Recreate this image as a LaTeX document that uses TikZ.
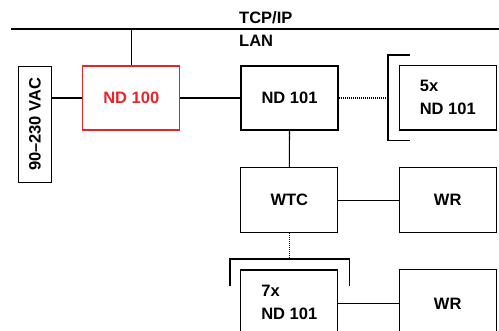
\documentclass[tikz,border=0pt]{standalone}
\usepackage{fontspec}
\setmainfont{Liberation Sans}
\definecolor{ndred}{RGB}{235,35,40}
\begin{document}
\begin{tikzpicture}[x=1pt,y=-1pt,
  every node/.style={font=\fontsize{16.5}{23}\selectfont\bfseries, inner sep=0pt},
  box/.style={draw, line width=1.1pt, minimum width=97pt, minimum height=64pt},
  wire/.style={line width=1.1pt},
  dotwire/.style={line width=1.1pt, dash pattern=on 1pt off 1pt}]
\useasboundingbox (0,0) rectangle (499,330);
\clip (0,0) rectangle (499,330);
% LAN bus
\coordinate (lanL) at (11,29);
\coordinate (lanR) at (500,29);
\draw[wire] (lanL) -- (lanR);
\node[anchor=west] (tcp) at (239,18) {TCP/IP};
\node[anchor=west] (lan) at (239,41) {LAN};
% nodes
\node[box, minimum width=33.5pt, minimum height=116.5pt] (vac) at (35,124.3) {};
\node[rotate=90] (vactxt) at (35,124.3) {90–230 VAC};
\node[box, draw=ndred, text=ndred] (nd100) at (131.3,98) {ND 100};
\node[box] (nd101) at (289.5,98) {ND 101};
\node[box, minimum height=64.5pt, align=left] (nd5) at (447.8,97.7) {5x\\ND 101};
\node[box, minimum height=65pt] (wtc) at (289.3,200.2) {WTC};
\node[box, minimum height=64.5pt] (wr1) at (447.7,200) {WR};
\node[box, align=left] (nd7) at (289.3,302) {7x\\ND 101};
\node[box, minimum height=70pt] (wr2) at (447.7,304.3) {WR};
% connectors
\draw[wire] (nd100.north) -- (nd100.north |- lanL);
\draw[wire] (vac.east |- nd100.west) -- (nd100.west);
\draw[wire] (nd100.east) -- (nd101.west);
\draw[wire] (nd101.south) -- (wtc.north);
\draw[wire] (wtc.east) -- (wtc.east -| wr1.west);
\draw[wire] (nd7.east |- 0,303.3) -- (wr2.west |- 0,303.3);
% bracket around 5x
\coordinate (brA) at (388,98);
\draw[wire] (410,55) -- (388,55) -- (388,140.7) -- (410,140.7);
\draw[dotwire] (nd101.east) -- (brA);
% bracket above 7x
\coordinate (brB) at (wtc.south |- 0,259);
\draw[wire] (230,285.7) -- (230,259) -- (349.3,259) -- (349.3,285.7);
\draw[dotwire] (wtc.south) -- (brB);
\end{tikzpicture}
\end{document}
